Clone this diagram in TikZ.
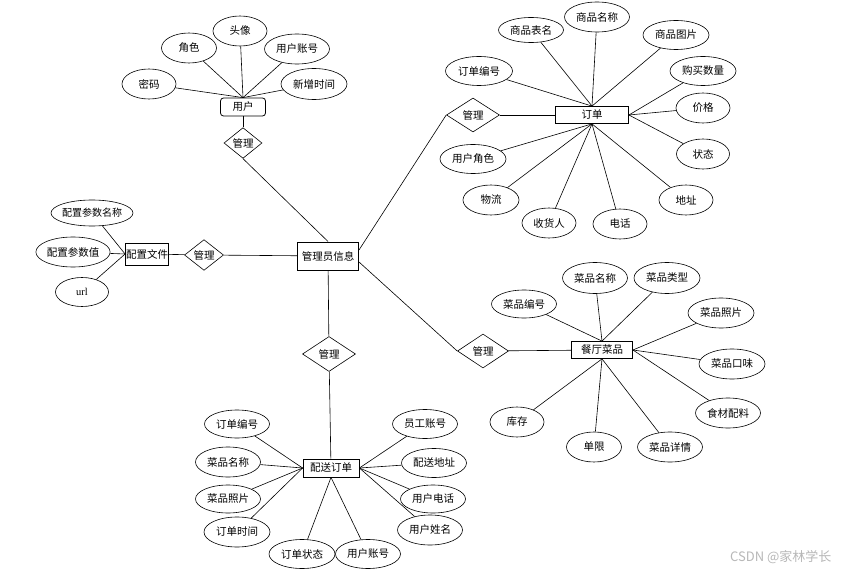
\documentclass[tikz,border=0pt]{standalone}
\usepackage{fontspec}
\setmainfont{Noto Sans CJK SC}
\newfontfamily\latinfont{Liberation Serif}
\usetikzlibrary{shapes.geometric}

\begin{document}
\begin{tikzpicture}[x=1pt, y=-1pt,
    e/.style={rectangle, draw, line width=0.8pt, fill=white, font=\fontsize{10.5}{12}\selectfont, inner sep=0pt, minimum height=18},
    r/.style={diamond, draw, line width=0.6pt, fill=white, font=\fontsize{10.5}{12}\selectfont, inner sep=0pt, minimum width=38, minimum height=24},
    a/.style={ellipse, draw, line width=0.6pt, fill=white, font=\fontsize{10.5}{12}\selectfont, inner sep=0pt, minimum width=54, minimum height=30},
    a4/.style={a, minimum width=65},
    l/.style={line width=0.6pt},
]
\fill[white] (0,0) rectangle (849,575);
\useasboundingbox (0,0) rectangle (849,575);

% central entity
\node[e, line width=1pt, minimum width=61, minimum height=28] (gly) at (328,256) {管理员信息};

% user
\node[e, rounded corners=3pt, minimum width=45] (yh) at (243,107) {用户};
\node[r] (m1) at (243,143) {管理};
\node[a] (tx) at (240,31) {头像};
\node[a, minimum width=55] (js) at (189,48) {角色};
\node[a4] (yhzh) at (297,49) {用户账号};
\node[a] (mm) at (149,84) {密码};
\node[a4, minimum width=66, minimum height=31] (xzsj) at (314,84) {新增时间};
\foreach \n in {tx,js,yhzh,mm,xzsj} \draw[l] (yh.north) -- (\n);
\draw[l] (yh) -- (m1);
\draw[l] (m1.south) -- (gly.north);

% config
\node[e, minimum width=43, minimum height=22] (pz) at (147,254) {配置文件};
\node[r, minimum width=39] (m2) at (204,255) {管理};
\node[a, minimum width=82, minimum height=26, inner xsep=-3pt, font=\fontsize{10}{12}\selectfont] (pzmc) at (92,213) {配置参数名称};
\node[a, minimum width=73] (pzz) at (73,252) {配置参数值};
\node[a, minimum width=53, minimum height=29, font=\latinfont\fontsize{10.5}{12}\selectfont] (url) at (82,292) {url};
\foreach \n in {pzmc,pzz,url} \draw[l] (pz.west) -- (\n);
\draw[l] (pz) -- (m2);
\draw[l] (m2) -- (gly);

% order
\node[e, minimum width=73, minimum height=17] (dd) at (592,115) {订单};
\node[r, minimum width=53, minimum height=34] (m3) at (473,115) {管理};
\node[a4, minimum height=25] (spbm) at (531,30) {商品表名};
\node[a4] (spmc) at (597,17) {商品名称};
\node[a4, minimum width=66, minimum height=29] (sptp) at (676,35) {商品图片};
\node[a4, minimum width=67, minimum height=29] (ddbh) at (479,71) {订单编号};
\node[a4, minimum width=66, minimum height=29] (gmsl) at (703,71) {购买数量};
\node[a] (jg) at (703,108) {价格};
\node[a, minimum width=53] (zt) at (703,154) {状态};
\node[a4, minimum width=66, minimum height=29] (yhjs) at (473,159) {用户角色};
\node[a, minimum width=56] (wl) at (491,200) {物流};
\node[a] (shr) at (549,223) {收货人};
\node[a] (dh) at (620,224) {电话};
\node[a] (dz) at (686,200) {地址};
\foreach \n in {spbm,spmc,sptp,ddbh} \draw[l] (dd.north) -- (\n);
\foreach \n in {gmsl,jg,zt} \draw[l] (dd.east) -- (\n);
\foreach \n in {yhjs,wl,shr,dh,dz} \draw[l] (dd.south) -- (\n);
\draw[l] (m3) -- (dd);
\draw[l] ([yshift=6pt]gly.east) -- (m3.west);

% dishes
\node[e, minimum width=61, minimum height=17] (ct) at (602,350) {餐厅菜品};
\node[r, minimum width=51, minimum height=34] (m4) at (483,351) {管理};
\node[a4, minimum height=28] (cpbh) at (524,304) {菜品编号};
\node[a4, minimum height=31] (cpmc) at (595,278) {菜品名称};
\node[a4, minimum width=66, minimum height=31] (cplx) at (667,278) {菜品类型};
\node[a4, minimum width=66] (cpzp) at (721,313) {菜品照片};
\node[a4, minimum width=66] (cpkw) at (732,364) {菜品口味};
\node[a4] (scpl) at (728,413) {食材配料};
\node[a4] (cpxq) at (670,447) {菜品详情};
\node[a, minimum width=55] (dx) at (594,447) {单限};
\node[a] (kc) at (517,422) {库存};
\foreach \n in {cpbh,cpmc,cplx} \draw[l] (ct.north) -- (\n);
\foreach \n in {cpzp,cpkw,scpl} \draw[l] (ct.east) -- (\n);
\foreach \n in {cpxq,dx,kc} \draw[l] (ct.south) -- (\n);
\draw[l] (m4) -- (ct);
\draw[l] ([yshift=-6pt]gly.east) -- (m4.west);

% delivery
\node[e, minimum width=56] (ps) at (331,468) {配送订单};
\node[r, minimum width=53, minimum height=35] (m5) at (329,354) {管理};
\node[a4, minimum height=28] (psbh) at (237,424) {订单编号};
\node[a4] (psmc) at (228,462) {菜品名称};
\node[a4, minimum height=28] (pszp) at (228,499) {菜品照片};
\node[a4, minimum width=66] (pssj) at (237,532) {订单时间};
\node[a4, minimum width=66, minimum height=29] (pszt) at (302,554) {订单状态};
\node[a4, minimum height=29] (pszh) at (368,554) {用户账号};
\node[a4, minimum height=29] (ygzh) at (425,424) {员工账号};
\node[a4, minimum height=29] (psdz) at (434,463) {配送地址};
\node[a4, minimum height=28] (yhdh) at (433,499) {用户电话};
\node[a4] (yhxm) at (430,530) {用户姓名};
\foreach \n in {psbh,psmc,pszp,pssj} \draw[l] (ps.west) -- (\n);
\foreach \n in {pszt,pszh} \draw[l] (ps.south) -- (\n);
\foreach \n in {ygzh,psdz,yhdh,yhxm} \draw[l] (ps.east) -- (\n);
\draw[l] (gly) -- (m5);
\draw[l] (m5) -- (ps);

\node[text=black!28, font=\fontsize{13}{15}\selectfont, anchor=east] (wm) at (835,557) {CSDN @家林学长};
\end{tikzpicture}
\end{document}
